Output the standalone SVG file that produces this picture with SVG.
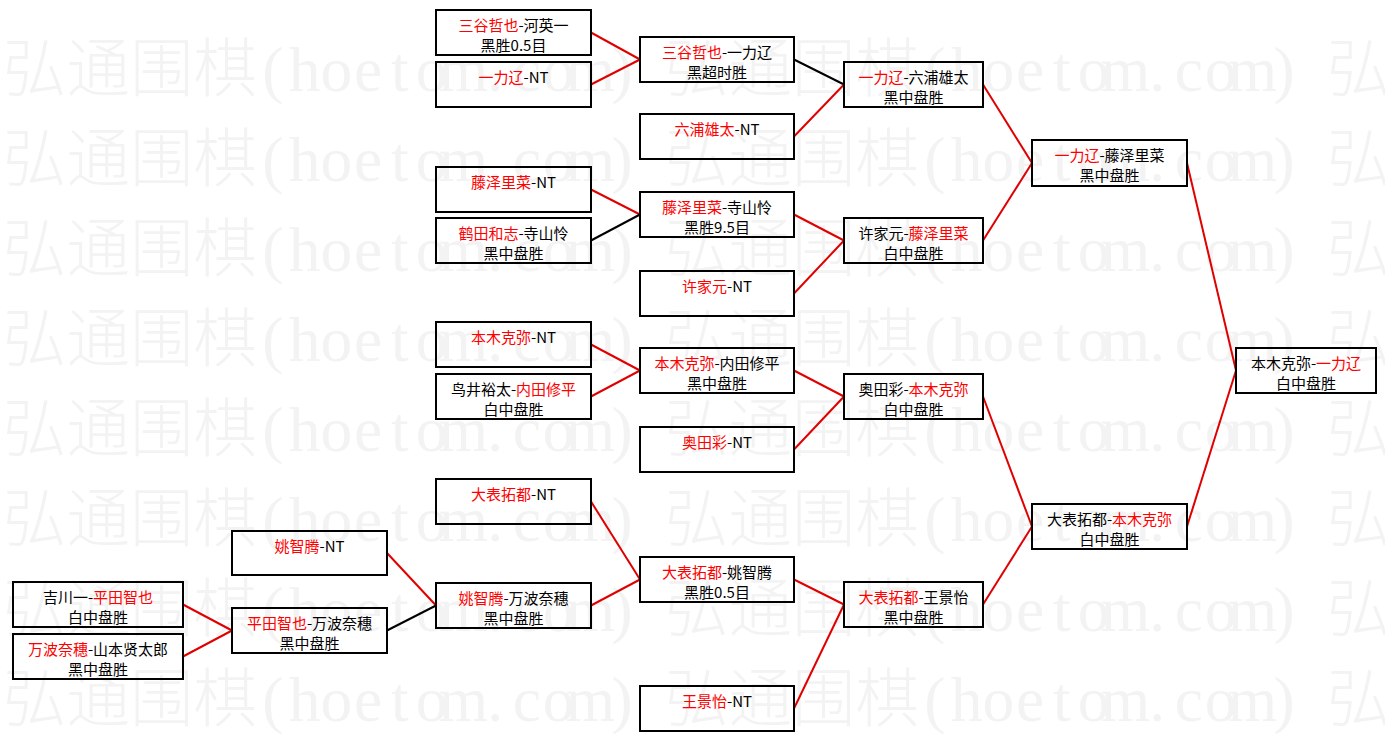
<svg xmlns="http://www.w3.org/2000/svg" xmlns:xlink="http://www.w3.org/1999/xlink" width="1385" height="741" viewBox="0 0 1385 741">
<style>
.wm{font-family:"Liberation Serif","Noto Sans CJK SC",serif;font-size:63.5px;font-weight:300;fill:#f3f3f3;text-anchor:middle}
.node rect{fill:none;stroke:#000;stroke-width:2}
.t{font-family:"Noto Sans CJK SC",sans-serif;font-size:15px;fill:#000;text-anchor:middle}
.r{fill:#ff0000}
.cr{stroke:#e00000;stroke-width:2;fill:none}
.ck{stroke:#000;stroke-width:2;fill:none}
</style>
<defs>
<text id="wmrow" class="wm" y="0" x="34.75 98.25 161.75 225.25 272.875 304.625 336.375 368.125 399.875 431.625 463.375 495.125 526.875 558.625 590.375 622.125 696.75 760.25 823.75 887.25 934.875 966.625 998.375 1030.125 1061.875 1093.625 1125.375 1157.125 1188.875 1220.625 1252.375 1284.125 1358.75">弘通围棋(hoetom.com)弘通围棋(hoetom.com)弘</text>
</defs>
<rect x="0" y="0" width="1385" height="741" fill="#ffffff"/>
<g id="watermark">
<use xlink:href="#wmrow" y="90.5"/>
<use xlink:href="#wmrow" y="180.5"/>
<use xlink:href="#wmrow" y="270.5"/>
<use xlink:href="#wmrow" y="360.5"/>
<use xlink:href="#wmrow" y="450.5"/>
<use xlink:href="#wmrow" y="540.5"/>
<use xlink:href="#wmrow" y="630.5"/>
<use xlink:href="#wmrow" y="720.5"/>
</g>
<g id="connectors">
<path class="cr" d="M183 604.5 L232 630.5"/>
<path class="cr" d="M183 656.5 L232 630.5"/>
<path class="cr" d="M387 553 L436 605.5"/>
<path class="ck" d="M387 630.5 L436 605.5"/>
<path class="cr" d="M591 32.5 L640 59.5"/>
<path class="cr" d="M591 84.5 L640 59.5"/>
<path class="cr" d="M591 189.5 L640 214.5"/>
<path class="ck" d="M591 240.5 L640 214.5"/>
<path class="cr" d="M591 344.5 L640 370.5"/>
<path class="cr" d="M591 396.5 L640 370.5"/>
<path class="cr" d="M591 501.5 L640 579.5"/>
<path class="cr" d="M591 605.5 L640 579.5"/>
<path class="ck" d="M794 59.5 L844 84.5"/>
<path class="cr" d="M794 136.5 L844 84.5"/>
<path class="cr" d="M794 214.5 L844 240.5"/>
<path class="cr" d="M794 293.5 L844 240.5"/>
<path class="cr" d="M794 370.5 L844 396.5"/>
<path class="cr" d="M794 449.5 L844 396.5"/>
<path class="cr" d="M794 579.5 L844 604.5"/>
<path class="cr" d="M794 708.5 L844 604.5"/>
<path class="cr" d="M983 84.5 L1032 163"/>
<path class="cr" d="M983 240.5 L1032 163"/>
<path class="cr" d="M983 396.5 L1032 526.5"/>
<path class="cr" d="M983 604.5 L1032 526.5"/>
<path class="cr" d="M1187 163 L1236 370.5"/>
<path class="cr" d="M1187 526.5 L1236 370.5"/>
</g>
<g id="n-l1a" class="node"><rect x="13" y="582" width="170" height="45"/><text class="t" x="98" y="602.5">吉川一-<tspan class="r">平田智也</tspan></text><text class="t" x="98" y="622.5">白中盘胜</text></g>
<g id="n-l1b" class="node"><rect x="13" y="634" width="170" height="45"/><text class="t" x="98" y="654.5"><tspan class="r">万波奈穗</tspan>-山本贤太郎</text><text class="t" x="98" y="674.5">黑中盘胜</text></g>
<g id="n-l2a" class="node"><rect x="232" y="531" width="155" height="44"/><text class="t" x="309.5" y="551.5"><tspan class="r">姚智腾</tspan>-NT</text></g>
<g id="n-l2b" class="node"><rect x="232" y="608" width="155" height="45"/><text class="t" x="309.5" y="628.5"><tspan class="r">平田智也</tspan>-万波奈穗</text><text class="t" x="309.5" y="648.5">黑中盘胜</text></g>
<g id="n-a1" class="node"><rect x="436" y="10" width="155" height="45"/><text class="t" x="513.5" y="30.5"><tspan class="r">三谷哲也</tspan>-河英一</text><text class="t" x="513.5" y="50.5">黑胜0.5目</text></g>
<g id="n-a2" class="node"><rect x="436" y="62" width="155" height="45"/><text class="t" x="513.5" y="82.5"><tspan class="r">一力辽</tspan>-NT</text></g>
<g id="n-a3" class="node"><rect x="436" y="167" width="155" height="45"/><text class="t" x="513.5" y="187.5"><tspan class="r">藤泽里菜</tspan>-NT</text></g>
<g id="n-a4" class="node"><rect x="436" y="218" width="155" height="45"/><text class="t" x="513.5" y="238.5"><tspan class="r">鹤田和志</tspan>-寺山怜</text><text class="t" x="513.5" y="258.5">黑中盘胜</text></g>
<g id="n-a5" class="node"><rect x="436" y="322" width="155" height="45"/><text class="t" x="513.5" y="342.5"><tspan class="r">本木克弥</tspan>-NT</text></g>
<g id="n-a6" class="node"><rect x="436" y="374" width="155" height="45"/><text class="t" x="513.5" y="394.5">鸟井裕太-<tspan class="r">内田修平</tspan></text><text class="t" x="513.5" y="414.5">白中盘胜</text></g>
<g id="n-a7" class="node"><rect x="436" y="479" width="155" height="45"/><text class="t" x="513.5" y="499.5"><tspan class="r">大表拓都</tspan>-NT</text></g>
<g id="n-a8" class="node"><rect x="436" y="583" width="155" height="45"/><text class="t" x="513.5" y="603.5"><tspan class="r">姚智腾</tspan>-万波奈穗</text><text class="t" x="513.5" y="623.5">黑中盘胜</text></g>
<g id="n-b1" class="node"><rect x="640" y="37" width="154" height="45"/><text class="t" x="717" y="57.5"><tspan class="r">三谷哲也</tspan>-一力辽</text><text class="t" x="717" y="77.5">黑超时胜</text></g>
<g id="n-b2" class="node"><rect x="640" y="114" width="154" height="45"/><text class="t" x="717" y="134.5"><tspan class="r">六浦雄太</tspan>-NT</text></g>
<g id="n-b3" class="node"><rect x="640" y="192" width="154" height="45"/><text class="t" x="717" y="212.5"><tspan class="r">藤泽里菜</tspan>-寺山怜</text><text class="t" x="717" y="232.5">黑胜9.5目</text></g>
<g id="n-b4" class="node"><rect x="640" y="271" width="154" height="45"/><text class="t" x="717" y="291.5"><tspan class="r">许家元</tspan>-NT</text></g>
<g id="n-b5" class="node"><rect x="640" y="348" width="154" height="45"/><text class="t" x="717" y="368.5"><tspan class="r">本木克弥</tspan>-内田修平</text><text class="t" x="717" y="388.5">黑中盘胜</text></g>
<g id="n-b6" class="node"><rect x="640" y="427" width="154" height="45"/><text class="t" x="717" y="447.5"><tspan class="r">奥田彩</tspan>-NT</text></g>
<g id="n-b7" class="node"><rect x="640" y="557" width="154" height="45"/><text class="t" x="717" y="577.5"><tspan class="r">大表拓都</tspan>-姚智腾</text><text class="t" x="717" y="597.5">黑胜0.5目</text></g>
<g id="n-b8" class="node"><rect x="640" y="686" width="154" height="45"/><text class="t" x="717" y="706.5"><tspan class="r">王景怡</tspan>-NT</text></g>
<g id="n-c1" class="node"><rect x="844" y="62" width="139" height="45"/><text class="t" x="913.5" y="82.5"><tspan class="r">一力辽</tspan>-六浦雄太</text><text class="t" x="913.5" y="102.5">黑中盘胜</text></g>
<g id="n-c2" class="node"><rect x="844" y="218" width="139" height="45"/><text class="t" x="913.5" y="238.5">许家元-<tspan class="r">藤泽里菜</tspan></text><text class="t" x="913.5" y="258.5">白中盘胜</text></g>
<g id="n-c3" class="node"><rect x="844" y="374" width="139" height="45"/><text class="t" x="913.5" y="394.5">奥田彩-<tspan class="r">本木克弥</tspan></text><text class="t" x="913.5" y="414.5">白中盘胜</text></g>
<g id="n-c4" class="node"><rect x="844" y="582" width="139" height="45"/><text class="t" x="913.5" y="602.5"><tspan class="r">大表拓都</tspan>-王景怡</text><text class="t" x="913.5" y="622.5">黑中盘胜</text></g>
<g id="n-d1" class="node"><rect x="1032" y="140" width="155" height="46"/><text class="t" x="1109.5" y="160.5"><tspan class="r">一力辽</tspan>-藤泽里菜</text><text class="t" x="1109.5" y="180.5">黑中盘胜</text></g>
<g id="n-d2" class="node"><rect x="1032" y="504" width="155" height="45"/><text class="t" x="1109.5" y="524.5">大表拓都-<tspan class="r">本木克弥</tspan></text><text class="t" x="1109.5" y="544.5">白中盘胜</text></g>
<g id="n-e" class="node"><rect x="1236" y="348" width="140" height="45"/><text class="t" x="1306" y="368.5">本木克弥-<tspan class="r">一力辽</tspan></text><text class="t" x="1306" y="388.5">白中盘胜</text></g>
</svg>
